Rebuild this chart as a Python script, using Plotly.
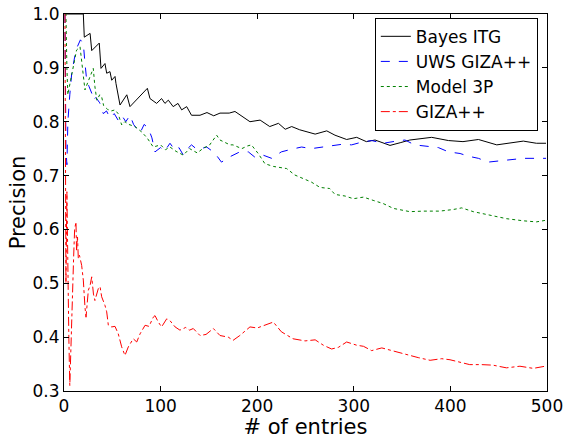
import plotly.graph_objects as go

# (entries, precision)
bayes_itg = [(1, 1.0), (20, 1.0), (21, 0.957), (27, 0.964), (28.7, 0.932), (36.5, 0.946),
             (38.3, 0.899), (42.4, 0.908), (44.2, 0.890), (47.6, 0.893), (49.4, 0.877),
             (52.8, 0.884), (53.8, 0.871), (58, 0.831), (65, 0.850), (68.3, 0.828),
             (86.3, 0.862), (89, 0.843), (95.9, 0.834), (101, 0.843), (104.5, 0.834),
             (108, 0.840), (113, 0.828), (118, 0.834), (121.8, 0.822), (127, 0.828),
             (132, 0.812), (140.8, 0.812), (148, 0.817), (155, 0.811), (161.5, 0.816),
             (171, 0.816), (177, 0.819), (192.5, 0.800), (203, 0.803), (213, 0.791),
             (222, 0.797), (229, 0.786), (235.7, 0.791), (244, 0.785), (260, 0.777),
             (272, 0.783), (280.5, 0.775), (292.6, 0.767), (303, 0.771), (313, 0.763),
             (322, 0.766), (329, 0.762), (337.5, 0.756), (348, 0.761), (358, 0.766),
             (380.6, 0.771), (398, 0.765), (413, 0.763), (429, 0.767), (448, 0.757),
             (462, 0.760), (475.5, 0.764), (489, 0.760), (499, 0.760)]

uws_giza = [(1, 1.0), (2, 0.75), (3, 0.72), (4, 0.80), (6, 0.85), (8, 0.89), (11, 0.92),
            (14, 0.94), (17, 0.952), (20, 0.945), (21.7, 0.909), (23.5, 0.877), (26, 0.865),
            (28.7, 0.853), (30.3, 0.840), (33, 0.845), (37, 0.835), (40.7, 0.815), (44, 0.82),
            (47.6, 0.807), (52, 0.815), (56, 0.803), (59.7, 0.812), (64, 0.800), (68.3, 0.812),
            (72, 0.795), (78.7, 0.779), (83, 0.795), (87.3, 0.788), (91, 0.770), (94.2, 0.744),
            (100, 0.752), (104, 0.745), (109.7, 0.760), (115, 0.747), (119, 0.752),
            (123.5, 0.738), (128, 0.750), (132, 0.757), (138, 0.748), (147.7, 0.753),
            (156, 0.742), (163, 0.725), (171.8, 0.735), (182, 0.744), (190.8, 0.744),
            (197.7, 0.734), (206, 0.738), (215, 0.732), (225, 0.744), (235.7, 0.749),
            (246, 0.753), (256, 0.750), (266.8, 0.753), (277, 0.755), (287.5, 0.758),
            (297.8, 0.757), (308, 0.762), (318.5, 0.765), (330.5, 0.760), (344, 0.764),
            (353, 0.766), (363, 0.757), (375.5, 0.755), (387.5, 0.752), (398, 0.744),
            (410, 0.741), (418.5, 0.736), (429, 0.732), (439, 0.725), (451, 0.727),
            (463.5, 0.730), (475.5, 0.732), (489, 0.732), (499, 0.732)]

model_3p = [(1, 1.0), (2, 1.0), (3, 0.9), (4, 0.85), (5, 0.86), (7, 0.88), (9.6, 0.902),
            (13, 0.933), (16.6, 0.939), (18.3, 0.911), (20, 0.89), (21.7, 0.859), (24, 0.87),
            (27, 0.885), (30.3, 0.899), (32, 0.865), (34, 0.84), (37, 0.85), (39, 0.846),
            (41, 0.83), (45, 0.823), (49, 0.82), (52.8, 0.822), (56, 0.815), (59.7, 0.794),
            (63, 0.80), (67, 0.795), (73.5, 0.791), (80.4, 0.781), (86, 0.77), (92.4, 0.753),
            (100, 0.757), (105, 0.748), (109.7, 0.753), (116, 0.745), (123.5, 0.738),
            (130, 0.75), (138, 0.742), (145, 0.752), (150, 0.755), (158, 0.775),
            (161.5, 0.766), (171.8, 0.757), (175, 0.757), (184, 0.750), (190, 0.755),
            (194, 0.757), (201, 0.741), (208, 0.722), (216.7, 0.717), (230.5, 0.713),
            (239, 0.701), (247.7, 0.695), (256, 0.688), (265, 0.678), (275, 0.676),
            (280.5, 0.665), (291, 0.662), (299.5, 0.657), (310, 0.660), (320, 0.654),
            (330.5, 0.648), (341, 0.639), (348, 0.636), (358, 0.633), (372, 0.634),
            (389, 0.634), (403, 0.637), (411.7, 0.640), (423.7, 0.633), (441, 0.627),
            (458, 0.620), (475.5, 0.616), (489, 0.614), (499, 0.617)]

giza = [(1, 1.0), (2, 0.5), (3, 0.67), (4, 0.5), (5, 0.4), (6, 0.31), (7, 0.38), (8, 0.44),
        (9, 0.5), (10, 0.55), (11, 0.6), (12.4, 0.614), (13, 0.56), (14, 0.586),
        (14.8, 0.546), (16, 0.552), (18.3, 0.533), (20, 0.506), (21.7, 0.456),
        (22.8, 0.437), (25.2, 0.487), (27, 0.496), (28.7, 0.512), (30.5, 0.48), (32, 0.468),
        (35.5, 0.490), (37.3, 0.494), (39, 0.475), (42.4, 0.459), (44.2, 0.447),
        (45.9, 0.422), (49.4, 0.419), (52.8, 0.420), (56.2, 0.406), (59.7, 0.382),
        (63.1, 0.366), (66.6, 0.382), (71.7, 0.397), (75.3, 0.391), (78.7, 0.406),
        (83.9, 0.422), (88, 0.42), (92.4, 0.437), (94.2, 0.440), (97.6, 0.428),
        (101, 0.419), (106.3, 0.434), (110, 0.43), (115, 0.419), (120, 0.413), (126, 0.418),
        (130, 0.413), (133.8, 0.416), (140.8, 0.403), (147, 0.405), (154.6, 0.416),
        (161.5, 0.403), (170, 0.400), (175, 0.394), (182, 0.403), (192.5, 0.419),
        (200, 0.417), (216.7, 0.428), (225, 0.410), (237, 0.397), (249.5, 0.393),
        (260, 0.395), (268.5, 0.385), (277, 0.378), (284, 0.381), (292.6, 0.391),
        (303, 0.385), (310, 0.383), (318.5, 0.375), (329, 0.380), (341, 0.374),
        (353, 0.369), (366.7, 0.362), (379, 0.357), (391, 0.360), (399.6, 0.358),
        (408, 0.354), (420, 0.349), (432, 0.349), (444, 0.348), (458, 0.343),
        (472, 0.346), (485.8, 0.342), (498, 0.346)]

series = [
    ("Bayes ITG", bayes_itg, "black", "solid"),
    ("UWS GIZA++", uws_giza, "blue", "dash"),
    ("Model 3P", model_3p, "green", "dot"),
    ("GIZA++", giza, "red", "dashdot"),
]

fig = go.Figure()
for name, pts, color, dash in series:
    xs, ys = zip(*pts)
    fig.add_trace(go.Scatter(x=xs, y=ys, mode="lines", name=name,
                             line=dict(color=color, dash=dash, width=1)))

axis = dict(showline=True, linecolor="black", linewidth=1, mirror="allticks",
            ticks="inside", ticklen=5, tickcolor="black", showgrid=False,
            zeroline=False, automargin=False,
            tickfont=dict(size=17, color="black"))

fig.update_layout(
    width=565, height=439,
    margin=dict(l=64, r=18, t=14, b=48),
    paper_bgcolor="white", plot_bgcolor="white",
    font=dict(family="DejaVu Sans", color="black"),
    xaxis=dict(axis, range=[0, 500], dtick=100,
               title=dict(text="# of entries", font=dict(size=21), standoff=2)),
    yaxis=dict(axis, range=[0.3, 1.0], dtick=0.1, tickformat=".1f",
               title=dict(text="Precision", font=dict(size=21), standoff=1)),
    legend=dict(x=0.981, y=0.99, xanchor="right", yanchor="top",
                bgcolor="white", bordercolor="black", borderwidth=1,
                font=dict(size=17), itemwidth=30, tracegroupgap=0),
    showlegend=True,
)

# drop the page's default body margin so the figure sits at the window's corner
fig.write_html("out.html", config={"displayModeBar": False},
               post_script="document.body.style.margin='0';")
